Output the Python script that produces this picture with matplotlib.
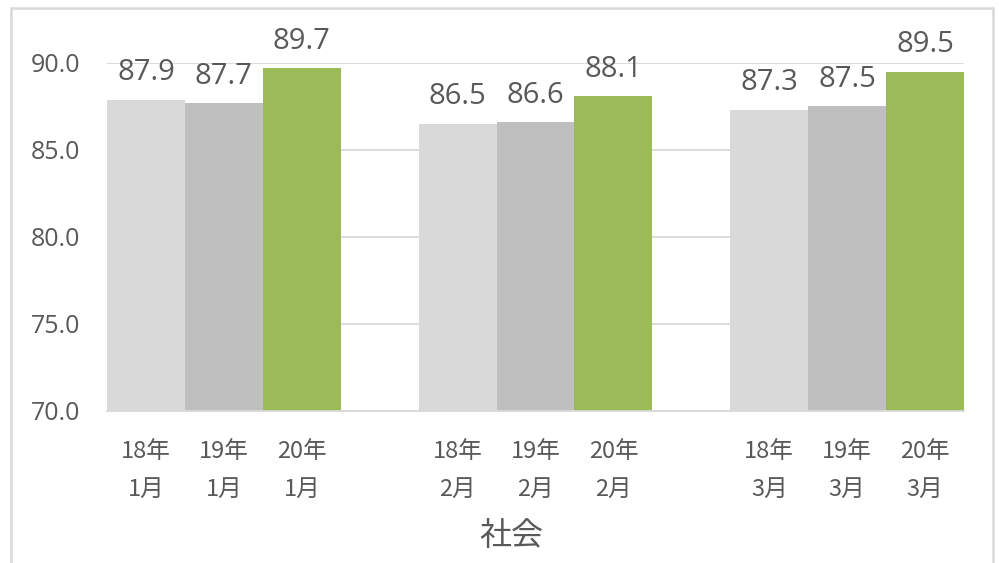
import matplotlib
matplotlib.use("Agg")
import matplotlib.pyplot as plt
from matplotlib.patches import Rectangle

plt.rcParams['font.family'] = ['Noto Sans CJK JP', 'DejaVu Sans']

months = ["1月", "2月", "3月"]
years = ["18年", "19年", "20年"]
values = {
    "18年": [87.9, 86.5, 87.3],
    "19年": [87.7, 86.6, 87.5],
    "20年": [89.7, 88.1, 89.5],
}
colors = {"18年": "#D9D9D9", "19年": "#BFBFBF", "20年": "#9BBB59"}
y_ticks = [70, 75, 80, 85, 90]
x_title = "社会"

text_color = "#595959"
fig = plt.figure(figsize=(9.99, 5.63), dpi=100)
ax = fig.add_axes([107/999, 1-411/563, (964-107)/999, (411-63)/563])

positions = []
labels = []
for gi, m in enumerate(months):
    for yi, yr in enumerate(years):
        x = gi * 4 + yi
        v = values[yr][gi]
        ax.bar(x, v - 70, bottom=70, width=1.0, color=colors[yr], zorder=2)
        ax.annotate(f"{v:.1f}", (x, v), xytext=(0, 9), textcoords="offset points",
                    ha="center", va="bottom", fontsize=21, color=text_color,
                    family=['Open Sans', 'DejaVu Sans'])
        positions.append(x)
        labels.append(f"{yr}\n{m}")

ax.set_xlim(-0.5, 10.5)
ax.set_ylim(70, 90)
ax.set_yticks(y_ticks)
ax.set_yticklabels([f"{t:.1f}" for t in y_ticks], fontsize=18, color=text_color,
                   family=['Open Sans', 'DejaVu Sans'])
ax.set_xticks(positions)
ax.set_xticklabels(labels, fontsize=17, color=text_color, linespacing=1.8)
ax.tick_params(axis='y', length=0, pad=19)
ax.tick_params(axis='x', length=0, pad=21)
ax.yaxis.grid(True, color="#D9D9D9", linewidth=1.3, zorder=0)
ax.set_axisbelow(True)
for s in ["top", "right", "left"]:
    ax.spines[s].set_visible(False)
ax.spines["bottom"].set_color("#D9D9D9")
ax.spines["bottom"].set_linewidth(1.3)

fig.text(511/999, 1-536/563, x_title, ha="center", va="center", fontsize=23, color=text_color)

fig.patches.append(Rectangle((11/999, -0.1), (993-11)/999, 1.1 - 8/563,
                             transform=fig.transFigure, fill=False,
                             edgecolor="#D9D9D9", linewidth=1.8))

fig.savefig("out.png", dpi=100, facecolor="white")
